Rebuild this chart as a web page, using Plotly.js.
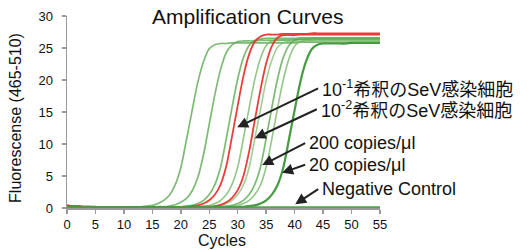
<!DOCTYPE html>
<html>
<head>
<meta charset="utf-8">
<script src="https://cdn.plot.ly/plotly-3.0.1.min.js"></script>
<style>html,body{margin:0;padding:0;background:#fff;}#chart{width:527px;height:250px;}</style>
</head>
<body>
<div id="chart"></div>
<script>
// ---- data ----
const cycles = [0,1,2,3,4,5,6,7,8,9,10,11,12,13,14,15,16,17,18,19,20,21,22,23,24,25,26,27,28,29,30,31,32,33,34,35,36,37,38,39,40,41,42,43,44,45,46,47,48,49,50,51,52,53,54,55];

const greenA = [0.1,0.1,0.1,0.1,0.1,0.1,0.1,0.1,0.1,0.1,
  0.1,0.1,0.1,0.2,0.3,0.4,0.7,1.2,2.0,3.6,
  6.3,10.7,15.3,19.7,22.9,24.9,25.5,25.7,25.7,25.8,
  25.8,25.8,25.8,25.8,25.8,25.8,25.8,25.8,25.8,25.8,
  25.8,25.9,25.9,25.9,25.9,25.9,25.9,25.9,25.9,25.9,
  25.9,25.9,25.9,25.9,25.9,25.9];
const greenB = [0.1,0.1,0.1,0.1,0.1,0.1,0.1,0.1,0.1,0.1,
  0.1,0.1,0.1,0.1,0.1,0.1,0.2,0.2,0.3,0.5,
  0.9,1.5,2.7,4.8,8.4,13.1,17.8,21.7,24.3,25.5,
  26.0,26.1,26.1,26.1,26.2,26.2,26.2,26.2,26.2,26.2,
  26.3,26.3,26.3,26.3,26.3,26.3,26.3,26.3,26.3,26.3,
  26.3,26.3,26.3,26.3,26.3,26.3];
const greenC = [0.1,0.1,0.1,0.1,0.1,0.1,0.1,0.1,0.1,0.1,
  0.1,0.1,0.1,0.1,0.1,0.1,0.1,0.1,0.1,0.1,
  0.2,0.3,0.4,0.7,1.2,2.1,3.7,6.4,10.9,15.7,
  20.2,23.5,25.4,26.2,26.4,26.5,26.5,26.5,26.5,26.5,
  26.5,26.6,26.6,26.6,26.6,26.6,26.6,26.6,26.6,26.6,
  26.6,26.6,26.6,26.6,26.6,26.6];
const greenD = [0.1,0.1,0.1,0.1,0.1,0.1,0.1,0.1,0.1,0.1,
  0.1,0.1,0.1,0.1,0.1,0.1,0.1,0.1,0.1,0.1,
  0.1,0.1,0.1,0.2,0.3,0.4,0.7,1.2,2.1,3.7,
  6.4,10.9,15.6,20.1,23.4,25.4,26.1,26.3,26.3,26.3,
  26.3,26.4,26.4,26.4,26.4,26.4,26.4,26.4,26.4,26.4,
  26.4,26.4,26.4,26.4,26.4,26.4];
const greenE = [0.1,0.1,0.1,0.1,0.1,0.1,0.1,0.1,0.1,0.1,
  0.1,0.1,0.1,0.1,0.1,0.1,0.1,0.1,0.1,0.1,
  0.1,0.1,0.1,0.1,0.1,0.2,0.3,0.4,0.7,1.2,
  2.1,3.6,6.3,10.8,15.4,19.9,23.1,25.1,25.8,26.0,
  26.0,26.0,26.0,26.0,26.0,26.1,26.1,26.1,26.1,26.1,
  26.1,26.1,26.1,26.1,26.1,26.1];
const greenF = [0.1,0.1,0.1,0.1,0.1,0.1,0.1,0.1,0.1,0.1,
  0.1,0.1,0.1,0.1,0.1,0.1,0.1,0.1,0.1,0.1,
  0.1,0.1,0.1,0.1,0.1,0.1,0.1,0.2,0.3,0.4,
  0.7,1.2,2.1,3.7,6.4,10.9,15.7,20.2,23.5,25.4,
  26.2,26.4,26.4,26.5,26.5,26.5,26.5,26.5,26.5,26.5,
  26.5,26.5,26.5,26.5,26.5,26.5];
const greenG = [0.1,0.1,0.1,0.1,0.1,0.1,0.1,0.1,0.1,0.1,
  0.1,0.1,0.1,0.1,0.1,0.1,0.1,0.1,0.1,0.1,
  0.1,0.1,0.1,0.1,0.1,0.1,0.1,0.1,0.2,0.3,
  0.4,0.7,1.2,2.1,3.6,6.4,10.8,15.6,20.0,23.3,
  25.3,26.0,26.2,26.2,26.3,26.3,26.3,26.3,26.3,26.3,
  26.3,26.3,26.3,26.3,26.3,26.3];
const green20copies = [0.1,0.1,0.1,0.1,0.1,0.1,0.1,0.1,0.1,0.1,
  0.1,0.1,0.1,0.1,0.1,0.1,0.1,0.1,0.1,0.1,
  0.1,0.1,0.1,0.1,0.1,0.1,0.1,0.1,0.1,0.1,
  0.1,0.2,0.3,0.4,0.7,1.2,2.1,3.6,6.3,10.7,
  15.3,19.7,22.9,24.8,25.5,25.7,25.7,25.7,25.7,25.7,
  25.8,25.8,25.8,25.8,25.8,25.8];
const redSeV1 = [0.4,0.3,0.3,0.2,0.2,0.2,0.1,0.1,0.1,0.1,
  0.1,0.1,0.1,0.1,0.1,0.1,0.1,0.1,0.1,0.1,
  0.1,0.2,0.3,0.4,0.7,1.2,2.1,3.7,6.6,11.2,
  16.0,20.6,24.0,26.0,26.8,27.1,27.1,27.1,27.2,27.2,
  27.2,27.2,27.2,27.3,27.3,27.3,27.3,27.3,27.3,27.3,
  27.3,27.3,27.3,27.3,27.3,27.3];
const redSeV2 = [0.4,0.3,0.3,0.2,0.2,0.1,0.1,0.1,0.1,0.1,
  0.1,0.1,0.1,0.1,0.1,0.1,0.1,0.1,0.1,0.1,
  0.1,0.1,0.1,0.1,0.2,0.2,0.3,0.5,0.9,1.6,
  2.8,5.0,8.8,13.7,18.5,22.6,25.3,26.6,27.0,27.0,
  27.0,27.1,27.1,27.1,27.1,27.1,27.1,27.1,27.1,27.1,
  27.1,27.1,27.1,27.1,27.1,27.1];
const negativeControl = [0.1,0.1,0.1,0.1,0.1,0.1,0.1,0.1,0.1,0.1,
  0.1,0.1,0.1,0.1,0.1,0.1,0.1,0.1,0.1,0.1,
  0.1,0.1,0.1,0.1,0.1,0.1,0.1,0.1,0.1,0.1,
  0.1,0.1,0.1,0.1,0.1,0.1,0.1,0.1,0.1,0.1,
  0.1,0.1,0.1,0.1,0.1,0.1,0.1,0.1,0.1,0.1,
  0.1,0.1,0.1,0.1,0.1,0.1];

const xTicks = [0,5,10,15,20,25,30,35,40,45,50,55];
const yTicks = [0,5,10,15,20,25,30];

const calloutLabels = ['10<sup>-1</sup>希釈のSeV感染細胞','10<sup>-2</sup>希釈のSeV感染細胞','200 copies/μl','20 copies/μl','Negative Control'];
const calloutX = [29.9, 33.0, 34.3, 37.8, 40.1];
const calloutY = [12.6, 10.9, 6.7, 5.5, 0.6];

const titleText = 'Amplification Curves';
const xTitle = 'Cycles';
const yTitle = 'Fluorescense (465-510)';

// ---- drawing ----
const FONT = 'Liberation Sans, Arial, Noto Sans CJK JP, sans-serif';
const lightGreen = 'rgba(88,168,78,0.78)';
const red = 'rgba(232,52,48,0.95)';

function line(y, color, width) {
  return {x: cycles, y: y, type: 'scatter', mode: 'lines',
          line: {color: color, width: width, shape: 'spline', smoothing: 0.8},
          hoverinfo: 'skip'};
}

const traces = [
  line(greenA, lightGreen, 1.7),
  line(greenB, lightGreen, 1.7),
  line(greenC, lightGreen, 1.7),
  line(greenD, 'rgba(110,180,95,0.75)', 1.6),
  line(greenE, 'rgba(120,185,105,0.7)', 1.6),
  line(greenF, lightGreen, 1.7),
  line(greenG, 'rgba(110,180,95,0.75)', 1.6),
  line(redSeV1, red, 1.8),
  line(redSeV2, red, 1.8),
  line(green20copies, 'rgba(60,150,55,0.95)', 2.2),
  line(negativeControl, 'rgba(70,160,65,0.95)', 2.4)
];

const offsets = [[81,-39],[62,-29],[43,-22],[23,-8],[23,-15]];
const annotations = calloutLabels.map((t, i) => ({
  x: calloutX[i], y: calloutY[i], xref: 'x', yref: 'y',
  text: t, showarrow: true, ax: offsets[i][0], ay: offsets[i][1],
  xanchor: 'left', yanchor: 'middle', borderpad: 3,
  arrowhead: 2, arrowsize: 1.1, arrowwidth: 2, arrowcolor: '#222',
  font: {family: FONT, size: 18, color: '#111'}
}));
annotations.push({
  text: yTitle, xref: 'paper', yref: 'paper', x: -0.165, y: 0.471,
  xanchor: 'center', yanchor: 'middle', textangle: -90, showarrow: false,
  font: {family: FONT, size: 16, color: '#111'}
});
annotations.push({
  text: xTitle, xref: 'paper', yref: 'paper', x: 0.495, y: -0.17,
  xanchor: 'center', yanchor: 'middle', showarrow: false,
  font: {family: FONT, size: 16, color: '#111'}
});

const layout = {
  width: 527, height: 250,
  margin: {l: 67, r: 147, t: 16, b: 42, pad: 0},
  paper_bgcolor: '#fff', plot_bgcolor: '#fff',
  showlegend: false,
  font: {family: FONT, color: '#111'},
  title: {text: titleText, font: {family: FONT, size: 21, color: '#111'},
          x: 0.47, xanchor: 'center', xref: 'container', y: 0.935, yanchor: 'middle', yref: 'container'},
  xaxis: {range: [0, 55], tickvals: xTicks, ticktext: xTicks.map(String),
          ticks: 'outside', ticklen: 4, tickwidth: 1.5, tickcolor: '#999',
          showline: true, linecolor: '#999', linewidth: 1.5, showgrid: false, zeroline: false,
          tickfont: {family: FONT, size: 13, color: '#111'}, ticklabelstandoff: 0, layer: 'below traces', fixedrange: true},
  yaxis: {range: [0, 30], tickvals: yTicks, ticktext: yTicks.map(String),
          ticks: 'outside', ticklen: 4, tickwidth: 1.5, tickcolor: '#999',
          showline: true, linecolor: '#999', linewidth: 1.5, showgrid: false, zeroline: false,
          tickfont: {family: FONT, size: 13, color: '#111'}, ticklabelstandoff: 6, layer: 'below traces', fixedrange: true},
  annotations: annotations
};

Plotly.newPlot('chart', traces, layout, {staticPlot: true, displayModeBar: false});
</script>
</body>
</html>
